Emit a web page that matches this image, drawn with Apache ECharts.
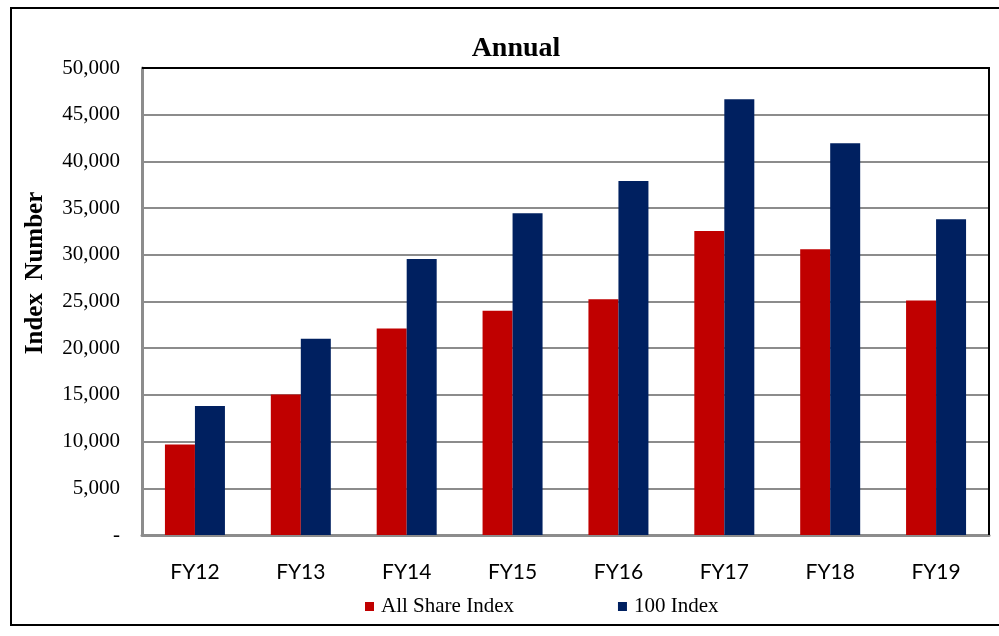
<!DOCTYPE html>
<html>
<head>
<meta charset="utf-8">
<script src="https://cdn.jsdelivr.net/npm/echarts@6/dist/echarts.min.js"></script>
<style>
html,body{margin:0;padding:0;background:#fff;}
#chart{width:999px;height:636px;}
</style>
</head>
<body>
<div id="chart"></div>
<script>
const categories = ['FY12','FY13','FY14','FY15','FY16','FY17','FY18','FY19'];
const allShareIndex = [9700, 15050, 22100, 24000, 25250, 32550, 30600, 25100];
const index100 = [13800, 21000, 29550, 34450, 37900, 46650, 41950, 33800];
const seriesNames = ['All Share Index', '100 Index'];
const yAxisTitle = 'Index  Number';
const chartTitle = 'Annual';

const chart = echarts.init(document.getElementById('chart'), null, {renderer:'canvas'});
const serif = '"Liberation Serif", "Times New Roman", serif';
chart.setOption({
  animation: false,
  backgroundColor: '#fff',
  title: {
    text: chartTitle,
    left: 511, top: 30, textAlign: 'center',
    textStyle: {fontFamily: serif, fontWeight: 'bold', fontSize: 28, color: '#000'}
  },
  graphic: [
    {type: 'rect', shape: {x: 11, y: 8, width: 1000, height: 617},
     style: {fill: 'none', stroke: '#000', lineWidth: 2}, z: 100},
    {type: 'polyline', shape: {points: [[142, 68], [989, 68], [989, 535]]},
     style: {fill: 'none', stroke: '#000', lineWidth: 2}, z: 100},
    {type: 'text', x: 36, y: 273, rotation: Math.PI / 2,
     style: {text: yAxisTitle, font: 'bold 25px "Liberation Serif", serif', fill: '#000',
             textAlign: 'center', textVerticalAlign: 'middle'}, z: 100}
  ],
  legend: {
    left: 360, top: 591,
    itemWidth: 9, itemHeight: 9, itemGap: 104,
    icon: 'rect',
    textStyle: {fontFamily: serif, fontSize: 21, color: '#000', padding: [0,0,0,2]},
    data: seriesNames
  },
  grid: {
    left: 142, top: 68, right: 10, bottom: 101
  },
  xAxis: {
    type: 'category', data: categories,
    axisLine: {show: true, lineStyle: {color: '#8c8c8c', width: 3}},
    axisTick: {show: false},
    axisLabel: {fontFamily: 'Lato, "Open Sans", sans-serif', fontSize: 21, color: '#000', margin: 27}
  },
  yAxis: {
    type: 'value', min: 0, max: 50000, interval: 5000,
    axisLine: {show: true, lineStyle: {color: '#8c8c8c', width: 3}},
    axisTick: {show: false},
    splitLine: {show: true, lineStyle: {color: '#8c8c8c', width: 2}},
    axisLabel: {
      fontFamily: serif, fontSize: 21, color: '#000', margin: 22,
      formatter: v => v === 0 ? '-' : v.toLocaleString('en-US')
    }
  },
  series: [
    {name: seriesNames[0], type: 'bar', data: allShareIndex, barWidth: 30, barGap: '0%',
     itemStyle: {color: '#C00000'}},
    {name: seriesNames[1], type: 'bar', data: index100, barWidth: 30, barGap: '0%',
     itemStyle: {color: '#002060'}}
  ]
});
</script>
</body>
</html>
